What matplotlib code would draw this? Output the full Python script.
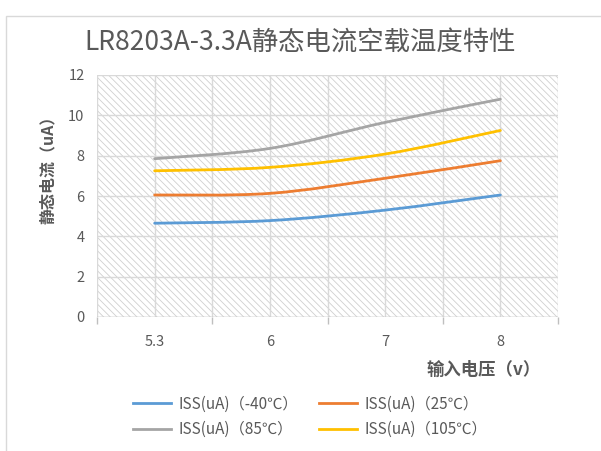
import numpy as np
import matplotlib.pyplot as plt
from matplotlib.path import Path
from matplotlib.patches import PathPatch, Rectangle
from matplotlib.lines import Line2D

plt.rcParams['font.family'] = ['Noto Sans CJK SC', 'DejaVu Sans']
plt.rcParams['hatch.linewidth'] = 0.6

categories = ["5.3", "6", "7", "8"]
iss_m40 = [4.65, 4.78, 5.30, 6.05]
iss_25 = [6.05, 6.13, 6.88, 7.75]
iss_85 = [7.85, 8.36, 9.65, 10.8]
iss_105 = [7.25, 7.42, 8.08, 9.25]

series = [
    ("ISS(uA)（-40℃）", iss_m40, "#5B9BD5"),
    ("ISS(uA)（25℃）", iss_25, "#ED7D31"),
    ("ISS(uA)（85℃）", iss_85, "#A5A5A5"),
    ("ISS(uA)（105℃）", iss_105, "#FFC000"),
]

text_gray = "#595959"
grid_gray = "#D9D9D9"


def smooth_path(xs, ys):
    # Catmull-Rom style bezier, similar to Excel's smoothed line
    pts = np.column_stack([xs, ys]).astype(float)
    n = len(pts)
    verts = [pts[0]]
    codes = [Path.MOVETO]
    for i in range(n - 1):
        p0 = pts[i - 1] if i > 0 else pts[i]
        p1 = pts[i]
        p2 = pts[i + 1]
        p3 = pts[i + 2] if i + 2 < n else pts[i + 1]
        c1 = p1 + (p2 - p0) / 6.0
        c2 = p2 - (p3 - p1) / 6.0
        verts += [c1, c2, p2]
        codes += [Path.CURVE4] * 3
    return Path(verts, codes)


fig = plt.figure(figsize=(6.01, 4.51), dpi=100)
fig.add_artist(Rectangle((6 / 601, -0.1), 1.2, 1 - 6 / 601 - 11 / 451 + 0.1,
                         transform=fig.transFigure, fill=False,
                         edgecolor="#D9D9D9", linewidth=1.0))

ax = fig.add_axes([97 / 601, 1 - 317 / 451, (558 - 97) / 601, (317 - 75) / 451])

x = np.arange(len(categories))
ax.set_xlim(-0.5, len(categories) - 0.5)
ax.set_ylim(0, 12)

# hatched background
ax.add_patch(Rectangle((0, 0), 1, 1, transform=ax.transAxes, facecolor="white",
                       edgecolor="#D0D0D0", hatch="\\" * 5, linewidth=0, zorder=0))

for yv in range(0, 13, 2):
    ax.axhline(yv, color=grid_gray, linewidth=1.0, zorder=1)
for xv in np.arange(-0.5, len(categories), 0.5):
    ax.axvline(xv, color=grid_gray, linewidth=1.0, zorder=1)

for label, vals, color in series:
    ax.add_patch(PathPatch(smooth_path(x, vals), facecolor="none", edgecolor=color,
                           linewidth=2.0, capstyle="round", zorder=3))

for s in ax.spines.values():
    s.set_visible(False)
ax.axhline(0, color="#BFBFBF", linewidth=1.0, zorder=2)

ax.set_yticks(range(0, 13, 2))
ax.set_xticks(x)
ax.set_xticklabels(categories)
ax.set_xticks(np.arange(-0.5, len(categories), 1.0), minor=True)
ax.tick_params(axis="x", which="major", length=0, pad=13, labelsize=10.5, labelcolor=text_gray)
ax.tick_params(axis="x", which="minor", length=5, color="#BFBFBF", width=1.0)
ax.tick_params(axis="y", length=0, pad=9, labelsize=10.5, labelcolor=text_gray)

fig.text(300 / 601, 1 - 42 / 451, "LR8203A-3.3A静态电流空载温度特性", ha="center", va="center",
         fontsize=19, color=text_gray)
fig.text(48 / 601, 1 - 166 / 451, "静态电流（uA）", rotation=90, ha="center", va="center",
         fontsize=11.5, fontweight="bold", color=text_gray)
fig.text(541 / 601, 1 - 370 / 451, "输入电压（v）", ha="right", va="center",
         fontsize=12.5, fontweight="bold", color=text_gray)

handles = [Line2D([0], [0], color=c, linewidth=2.0) for _, _, c in series]
labels = [lab for lab, _, _ in series]
order = [0, 2, 1, 3]
leg = fig.legend([handles[i] for i in order], [labels[i] for i in order], ncol=2,
                 loc="center", bbox_to_anchor=(310 / 601, 1 - 417 / 451), frameon=False,
                 fontsize=11, handlelength=2.5, handletextpad=0.45, columnspacing=1.4,
                 labelspacing=0.55)
for t in leg.get_texts():
    t.set_color(text_gray)

fig.savefig("out.png", dpi=100)
